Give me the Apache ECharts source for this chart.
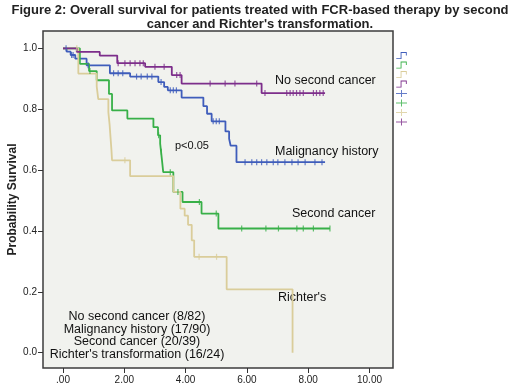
<!DOCTYPE html>
<html>
<head>
<meta charset="utf-8">
<script src="https://cdn.jsdelivr.net/npm/echarts@6/dist/echarts.min.js"></script>
<style>
html, body { margin: 0; padding: 0; background: #fff; }
#main { width: 520px; height: 385px; }
</style>
</head>
<body>
<div id="main"></div>
<script>
var myChart = echarts.init(document.getElementById('main'));

// Kaplan-Meier steps (time in years, survival after that time)
var mhTime = [0, 0.12, 0.25, 0.4, 0.77, 1.53, 2.19, 3.11, 3.3, 3.42, 3.87, 4.58, 4.7, 4.85, 5.3, 5.42, 5.47, 5.66, 8.55];
var mhSurv = [1.0, 0.989, 0.978, 0.966, 0.944, 0.918, 0.907, 0.889, 0.873, 0.862, 0.838, 0.81, 0.785, 0.76, 0.727, 0.703, 0.68, 0.626, 0.626];
var mhCens = [0.1, 0.28, 0.33, 0.82, 1.65, 1.8, 1.95, 2.4, 2.55, 2.75, 2.9, 3.2, 3.5, 3.6, 3.7, 4.9, 5.0, 5.1, 5.94, 6.16, 6.32, 6.48, 6.65, 6.86, 7.01, 7.24, 7.47, 7.67, 7.9, 8.22, 8.45];

var scTime = [0, 0.55, 0.85, 1.1, 1.5, 1.6, 2.1, 2.95, 3.1, 3.17, 3.2, 3.23, 3.27, 3.6, 3.9, 4.52, 5.07, 8.71];
var scSurv = [1.0, 0.949, 0.925, 0.895, 0.85, 0.796, 0.769, 0.741, 0.714, 0.687, 0.66, 0.632, 0.593, 0.528, 0.495, 0.457, 0.408, 0.408];
var scCens = [0.88, 3.12, 3.21, 3.5, 3.75, 4.45, 5.0, 5.83, 6.62, 7.03, 7.63, 7.84, 8.17, 8.71];

var rtTime = [0, 0.5, 1.1, 1.15, 1.48, 1.52, 1.55, 1.58, 1.6, 2.19, 3.6, 3.83, 3.97, 4.08, 4.2, 4.28, 5.34, 7.49];
var rtSurv = [1.0, 0.917, 0.875, 0.833, 0.79, 0.75, 0.708, 0.667, 0.632, 0.58, 0.528, 0.473, 0.45, 0.42, 0.369, 0.315, 0.208, 0.0];
var rtCens = [0.45, 2.02, 4.44, 5.01];

var nsTime = [0, 0.45, 1.2, 1.77, 2.68, 3.55, 3.87, 6.48, 8.55];
var nsSurv = [1.0, 0.988, 0.976, 0.951, 0.939, 0.912, 0.884, 0.853, 0.853];
var nsCens = [1.8, 2.02, 2.19, 2.35, 2.51, 2.62, 3.0, 3.3, 3.71, 3.82, 4.8, 5.29, 5.61, 6.32, 6.59, 7.3, 7.41, 7.51, 7.62, 7.73, 7.84, 8.17, 8.27, 8.38, 8.49];

var groupNames = ['Malignancy history', 'Second cancer', "Richter's", 'No second cancer'];
var countLabels = ['No second cancer (8/82)', 'Malignancy history (17/90)', 'Second cancer (20/39)', "Richter's transformation (16/24)"];
var xTicks = [0, 2, 4, 6, 8, 10];
var yTicks = [0, 0.2, 0.4, 0.6, 0.8, 1.0];

var colors = ['#3f5dbb', '#38b048', '#dacd9a', '#7d2e8b'];
var font = '"Liberation Sans", Arial, sans-serif';

var times = [mhTime, scTime, rtTime, nsTime];
var survs = [mhSurv, scSurv, rtSurv, nsSurv];
var cens = [mhCens, scCens, rtCens, nsCens];

function stepData(t, s) {
	var res = [];
	for (var i = 0; i < t.length; i++) res.push([t[i], s[i]]);
	return res;
}
// survival value of the curve at time x
function survAt(t, s, x) {
	var v = s[0];
	for (var i = 0; i < t.length; i++) {
		if (t[i] <= x) v = s[i];
	}
	return v;
}
function censData(t, s, c) {
	var res = [];
	for (var i = 0; i < c.length; i++) res.push([c[i], survAt(t, s, c[i])]);
	return res;
}

var stepIcon = 'path://M0,7 L5,7 L5,0 L12,0 L12,4 L11,4 L11,1 L6,1 L6,8 L0,8 Z';
var plusIcon = 'path://M0,3 L5,3 L5,0 L6,0 L6,3 L11,3 L11,4 L6,4 L6,7 L5,7 L5,4 L0,4 Z';

var series = [];
var legendData = [];
for (var g = 0; g < 4; g++) {
	series.push({
		name: groupNames[g],
		type: 'line',
		step: 'end',
		symbol: 'none',
		data: stepData(times[g], survs[g]),
		lineStyle: { width: 1.8, color: colors[g] },
		itemStyle: { color: colors[g] },
		z: 3
	});
	legendData.push({ name: groupNames[g], icon: stepIcon });
}
for (var g = 0; g < 4; g++) {
	series.push({
		name: groupNames[g] + ' censored',
		type: 'scatter',
		symbol: 'rect',
		symbolSize: [1.2, 6],
		data: censData(times[g], survs[g], cens[g]),
		itemStyle: { color: colors[g] },
		z: 4
	});
	legendData.push({ name: groupNames[g] + ' censored', icon: plusIcon });
}

var option = {
	backgroundColor: '#fff',
	animation: false,
	title: {
		text: 'Figure 2: Overall survival for patients treated with FCR-based therapy by second\ncancer and Richter\'s transformation.',
		left: 'center',
		top: -2,
		textStyle: {
			fontSize: 13,
			fontWeight: 'bold',
			fontFamily: font,
			color: '#222',
			lineHeight: 14.5
		}
	},
	legend: {
		orient: 'vertical',
		left: 391,
		top: 47,
		itemWidth: 15,
		itemHeight: 7,
		itemGap: 2.5,
		selectedMode: false,
		formatter: function() { return ''; },
		textStyle: { fontSize: 6, lineHeight: 7 },
		data: legendData
	},
	grid: {
		show: true,
		outerBoundsMode: 'none',
		left: 43,
		right: 127,
		top: 31,
		bottom: 17,
		backgroundColor: '#f1f2ee',
		borderColor: '#3c3c3c',
		borderWidth: 1.5
	},
	xAxis: {
		type: 'value',
		min: -0.6525,
		max: 10.767,
		axisLine: { show: false, onZero: false },
		axisTick: { show: true, length: 5, customValues: xTicks, lineStyle: { color: '#333' } },
		splitLine: { show: false },
		axisLabel: {
			customValues: xTicks,
			margin: 7,
			fontSize: 10,
			fontFamily: font,
			color: '#222',
			formatter: function(v) { return v === 0 ? '.00' : v.toFixed(2); }
		}
	},
	yAxis: {
		type: 'value',
		min: -0.0503,
		max: 1.0568,
		name: 'Probability Survival',
		nameLocation: 'middle',
		nameGap: 24,
		nameMoveOverlap: false,
		nameTextStyle: { fontSize: 12, fontWeight: 'bold', fontFamily: font, color: '#222' },
		axisLine: { show: false, onZero: false },
		axisTick: { show: true, length: 5, customValues: yTicks, lineStyle: { color: '#333' } },
		splitLine: { show: false },
		axisLabel: {
			customValues: yTicks,
			margin: 6,
			fontSize: 10,
			fontFamily: font,
			color: '#222',
			formatter: function(v) { return v.toFixed(1); }
		}
	},
	graphic: [
		{ type: 'text', style: { x: 275, y: 81, text: groupNames[3], font: '12.5px ' + font, fill: '#111', verticalAlign: 'middle' } },
		{ type: 'text', style: { x: 275, y: 152, text: groupNames[0], font: '12.5px ' + font, fill: '#111', verticalAlign: 'middle' } },
		{ type: 'text', style: { x: 292, y: 214, text: groupNames[1], font: '12.5px ' + font, fill: '#111', verticalAlign: 'middle' } },
		{ type: 'text', style: { x: 278, y: 298, text: groupNames[2], font: '12.5px ' + font, fill: '#111', verticalAlign: 'middle' } },
		{ type: 'text', style: { x: 175, y: 146, text: 'p<0.05', font: '11px ' + font, fill: '#111', verticalAlign: 'middle' } },
		{ type: 'text', style: { x: 137, y: 310.5, text: countLabels.join('\n'), font: '12.5px ' + font, fill: '#111', align: 'center', verticalAlign: 'top', lineHeight: 12.5 } }
	],
	series: series
};
myChart.setOption(option);
</script>
</body>
</html>
